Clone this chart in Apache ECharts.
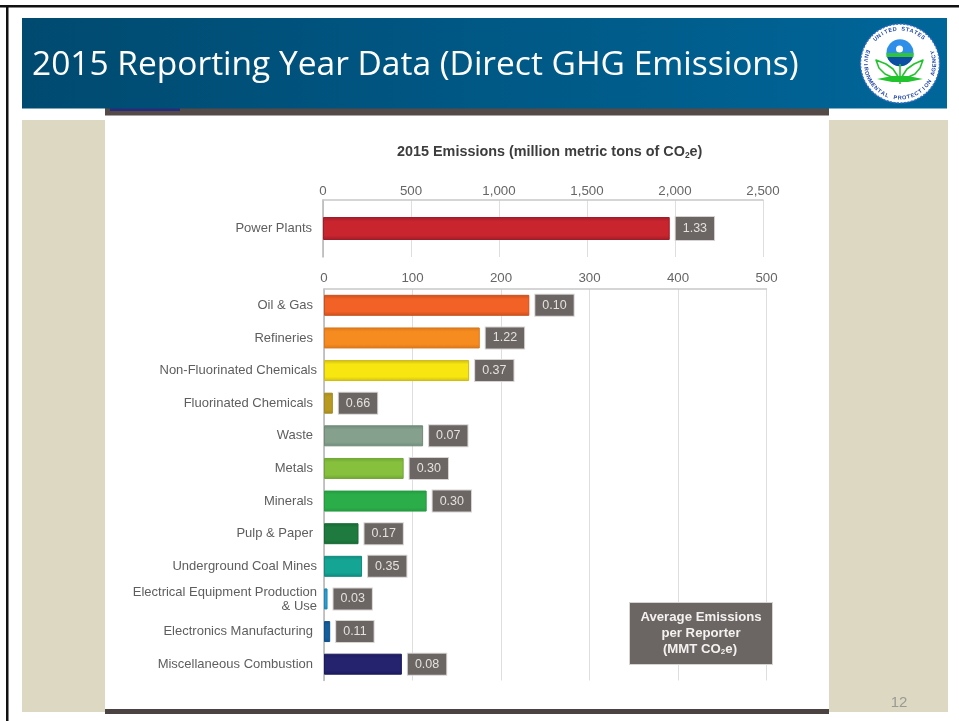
<!DOCTYPE html>
<html>
<head>
<meta charset="utf-8">
<title>2015 Reporting Year Data (Direct GHG Emissions)</title>
<style>
  html, body { margin: 0; padding: 0; background: #fff; }
  #chart { width: 959px; height: 721px; }
</style>
<script src="https://cdn.jsdelivr.net/npm/echarts@6/dist/echarts.min.js"></script>
</head>
<body>
<div id="chart"></div>
<script>
// Power Plants dwarfs everything else, so it gets its own scale on top
const topCategories = ["Power Plants"];
const topValues = [1970];
const topAverages = ["1.33"];

const categories = [
  "Oil & Gas", "Refineries", "Non-Fluorinated Chemicals", "Fluorinated Chemicals",
  "Waste", "Metals", "Minerals", "Pulp & Paper", "Underground Coal Mines",
  "Electrical Equipment Production\n& Use", "Electronics Manufacturing", "Miscellaneous Combustion",
];
const values = [232, 176, 164, 10, 112, 90, 116, 39, 43, 4, 7, 88];
const averages = ["0.10", "1.22", "0.37", "0.66", "0.07", "0.30", "0.30", "0.17", "0.35", "0.03", "0.11", "0.08"];

const topTicks = { max: 2500, interval: 500 };
const lowerTicks = { max: 500, interval: 100 };

const topBarColors = [["#c9252f", "#a01c28"]];
const barColors = [
  ["#f26125", "#c9501f"], ["#f68b1f", "#d9781c"], ["#f7e60f", "#cdbb18"], ["#b99a20", "#a38a22"],
  ["#86a08e", "#6f8a78"], ["#86c03c", "#6fa535"], ["#2bae4a", "#259a41"], ["#1e7a3e", "#186a35"],
  ["#14a594", "#108a7e"], ["#2a9fd0", "#1f88b5"], ["#135f9e", "#0f5089"], ["#25226e", "#1c1a5c"],
];

const FONT = '"Liberation Sans", Arial, sans-serif';
const GREY = "#6b6564";

// some of the source labels sit 4px further right than the rest
const flushLabels = ["Non-Fluorinated Chemicals", "Underground Coal Mines", "Electrical Equipment Production\n& Use"];
const categoryData = (names) => names.map((n) => ({
  value: n,
  textStyle: { padding: [0, flushLabels.includes(n) ? 0 : 4, 0, 0] },
}));

const barData = (vals, colors) => vals.map((v, i) => ({
  value: v,
  itemStyle: {
    color: {
      type: "linear", x: 0, y: 0, x2: 0, y2: 1,
      colorStops: [
        { offset: 0, color: colors[i][1] },
        { offset: 0.2, color: colors[i][0] },
        { offset: 0.8, color: colors[i][0] },
        { offset: 1, color: colors[i][1] },
      ],
    },
    borderColor: colors[i][1],
    borderWidth: 1,
  },
}));

const valueAxis = (gridIndex, ticks, margin) => ({
  type: "value",
  gridIndex,
  position: "top",
  min: 0,
  max: ticks.max,
  interval: ticks.interval,
  axisLabel: {
    color: "#666",
    fontFamily: FONT,
    fontSize: 13.3,
    margin,
    formatter: (v) => v.toLocaleString("en-US"),
  },
  axisLine: { show: true, lineStyle: { color: "#c8c8c8", width: 1.5 } },
  axisTick: { show: false },
  splitLine: { show: true, lineStyle: { color: "#dedede", width: 1 } },
});

const categoryAxis = (gridIndex, names) => ({
  type: "category",
  gridIndex,
  inverse: true,
  data: categoryData(names),
  axisLabel: { color: "#5e5e5e", fontFamily: FONT, fontSize: 13, lineHeight: 14, margin: 7 },
  axisLine: { show: true, lineStyle: { color: "#b4b4b4", width: 1.5 } },
  axisTick: { show: false },
});

const barSeries = (axisIndex, vals, colors, labels, barWidth, labelPad) => ({
  type: "bar",
  xAxisIndex: axisIndex,
  yAxisIndex: axisIndex,
  barWidth,
  data: barData(vals, colors),
  silent: true,
  label: {
    show: true,
    position: "right",
    distance: 6,
    formatter: (p) => labels[p.dataIndex],
    color: "#e4e1de",
    fontFamily: FONT,
    fontSize: 12.5,
    backgroundColor: GREY,
    borderColor: "#d6d3d1",
    borderWidth: 1,
    padding: labelPad,
  },
});

// --- slide furniture, everything else on the page is plain graphic elements
const rect = (x, y, width, height, fill, z) => ({
  type: "rect", silent: true, z: z === undefined ? -10 : z,
  shape: { x, y, width, height }, style: { fill },
});

const sealLetters = (text, startDeg, stepDeg, radius, flip) => Array.from(text).map((ch, i) => {
  const deg = startDeg + i * stepDeg;
  const a = (deg * Math.PI) / 180;
  return {
    type: "text", silent: true, z: 22,
    x: 900 + radius * Math.sin(a),
    y: 63.5 - radius * Math.cos(a),
    rotation: flip ? Math.PI - a : -a,
    style: {
      text: ch, fill: "#1f45a8", font: `bold 5.5px ${FONT}`,
      align: "center", verticalAlign: "middle",
    },
  };
});

const leaf = (points) => ({
  type: "polygon", silent: true, z: 21,
  shape: { points },
  style: { fill: "#fff", stroke: "#22c42e", lineWidth: 1.6, lineJoin: "round" },
});

// lower part of the seal's globe, below the green band
const globeBottom = [];
for (let deg = 18; deg <= 162; deg += 12) {
  const a = (deg * Math.PI) / 180;
  globeBottom.push([900 + 13.5 * Math.cos(a), 52.7 + 13.5 * Math.sin(a)]);
}

const seal = [
  { type: "circle", silent: true, z: 20, shape: { cx: 900, cy: 63.5, r: 39.5 },
    style: { fill: "#fff", stroke: "#3a6cc8", lineWidth: 1.5, lineDash: [2, 1.5] } },
  { type: "circle", silent: true, z: 21, shape: { cx: 900, cy: 52.7, r: 13.5 }, style: { fill: "#2f8fe8" } },
  { type: "polygon", silent: true, z: 21, shape: { points: globeBottom }, style: { fill: "#0b4ea2" } },
  { type: "rect", silent: true, z: 21, shape: { x: 886.4, y: 53, width: 27.2, height: 4 }, style: { fill: "#2fc43a" } },
  { type: "circle", silent: true, z: 21, shape: { cx: 899.5, cy: 49, r: 3.5 }, style: { fill: "#fff" } },
  leaf([[899, 78], [893, 69], [886, 64], [876, 60], [879, 68], [885, 74], [896, 79]]),
  leaf([[901, 78], [907, 69], [914, 64], [923, 60], [920, 68], [915, 74], [904, 79]]),
  { type: "polygon", silent: true, z: 21, shape: { points: [[877, 79], [892, 76], [908, 76], [923, 79], [908, 82], [892, 82]] }, style: { fill: "#22c42e" } },
  { type: "rect", silent: true, z: 21, shape: { x: 899.2, y: 64, width: 1.6, height: 20 }, style: { fill: "#22c42e" } },
  ...sealLetters("UNITED STATES", -45, 7.2, 34.5, false),
  ...sealLetters("ENVIRONMENTAL PROTECTION AGENCY", 290, -7.3, 34.5, true),
];

const legendBox = [
  { type: "rect", silent: true, z: 10, shape: { x: 629.5, y: 602.5, width: 143, height: 62 },
    style: { fill: GREY, stroke: "#d6d3d1", lineWidth: 1 } },
  { type: "text", silent: true, z: 11, x: 701, y: 617,
    style: { text: "Average Emissions", fill: "#f4f2f0", font: `bold 13.2px ${FONT}`, align: "center", verticalAlign: "middle" } },
  { type: "text", silent: true, z: 11, x: 701, y: 633,
    style: { text: "per Reporter", fill: "#f4f2f0", font: `bold 13.2px ${FONT}`, align: "center", verticalAlign: "middle" } },
  { type: "text", silent: true, z: 11, x: 700, y: 649,
    style: {
      text: "{t|(MMT CO}{s|2}{t|e)}", align: "center", verticalAlign: "middle",
      rich: {
        t: { fill: "#f4f2f0", font: `bold 13.2px ${FONT}`, lineHeight: 14 },
        s: { fill: "#f4f2f0", font: `bold 8px ${FONT}`, lineHeight: 14, verticalAlign: "bottom" },
      },
    } },
];

const option = {
  animation: false,
  backgroundColor: "#fff",
  title: [
    {
      text: "2015 Reporting Year Data (Direct GHG Emissions)",
      left: 27, top: 38,
      textStyle: { color: "#fff", fontFamily: '"Open Sans", sans-serif', fontWeight: "normal", fontSize: 33.5, lineHeight: 44 },
    },
    {
      text: "{t|2015 Emissions (million metric tons of CO}{s|2}{t|e)}",
      left: 392, top: 139,
      textStyle: {
        rich: {
          t: { color: "#3d3d3d", fontFamily: FONT, fontWeight: "bold", fontSize: 14.4, lineHeight: 16 },
          s: { color: "#3d3d3d", fontFamily: FONT, fontWeight: "bold", fontSize: 8.5, lineHeight: 16, verticalAlign: "bottom" },
        },
      },
    },
  ],
  grid: [
    { left: 323, top: 200, width: 440, height: 57 },
    { left: 324, top: 289, width: 442.5, height: 391.5 },
  ],
  xAxis: [valueAxis(0, topTicks, 2), valueAxis(1, lowerTicks, 4)],
  yAxis: [categoryAxis(0, topCategories), categoryAxis(1, categories)],
  series: [
    barSeries(0, topValues, topBarColors, topAverages, 23, [5, 7]),
    barSeries(1, values, barColors, averages, 21, [4, 7]),
  ],
  graphic: [
    // page frame
    rect(0, 5, 959, 2.5, "#111"),
    rect(6, 5, 2.5, 716, "#111"),
    // beige side panels
    rect(22, 120, 83, 592, "#ddd8c2"),
    rect(829, 120, 119, 592, "#ddd8c2"),
    // screenshot edges peeking out of the pasted picture
    rect(110, 108, 70, 3, "#2a2a7a", -9),
    rect(105, 108, 724, 7.5, "#544a48", -10),
    rect(105, 709, 724, 5, "#4b4341"),
    // title banner
    {
      type: "rect", silent: true, z: -8,
      shape: { x: 22, y: 18, width: 925, height: 90.5 },
      style: {
        fill: {
          type: "linear", x: 0, y: 0, x2: 1, y2: 0,
          colorStops: [{ offset: 0, color: "#004a70" }, { offset: 1, color: "#006699" }],
        },
      },
    },
    ...seal,
    ...legendBox,
    { type: "text", silent: true, z: 5, x: 899, y: 703,
      style: { text: "12", fill: "#9a9a94", font: `15px ${FONT}`, align: "center", verticalAlign: "middle" } },
  ],
};

const chart = echarts.init(document.getElementById("chart"));
chart.setOption(option);
</script>
</body>
</html>
